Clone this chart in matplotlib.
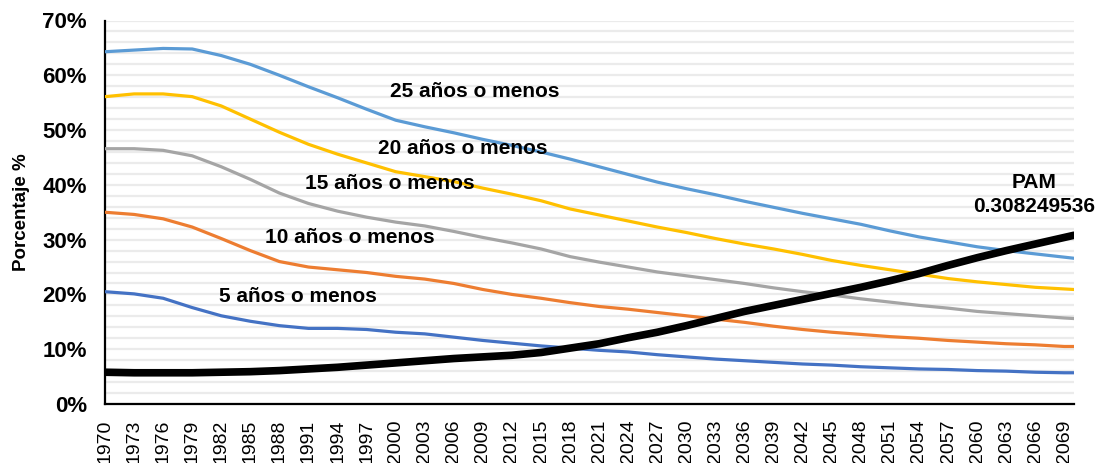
import matplotlib
matplotlib.use("Agg")
import matplotlib.pyplot as plt
from matplotlib.ticker import MultipleLocator, FuncFormatter

plt.rcParams['font.family'] = ['Liberation Sans', 'DejaVu Sans']

# Datos (porcentaje)
years = [1970, 1973, 1976, 1979, 1982, 1985, 1988, 1991, 1994, 1997,
         2000, 2003, 2006, 2009, 2012, 2015, 2018, 2021, 2024, 2027,
         2030, 2033, 2036, 2039, 2042, 2045, 2048, 2051, 2054, 2057,
         2060, 2063, 2066, 2069, 2070]

menos25 = [64.3, 64.6, 64.9, 64.8, 63.6, 62.0, 60.0, 57.9, 55.9, 53.8,
           51.8, 50.6, 49.5, 48.3, 47.2, 46.0, 44.7, 43.3, 41.9, 40.5,
           39.3, 38.2, 37.0, 35.9, 34.8, 33.8, 32.8, 31.6, 30.5, 29.6,
           28.7, 28.0, 27.4, 26.8, 26.6]
menos20 = [56.1, 56.6, 56.6, 56.1, 54.4, 52.0, 49.6, 47.4, 45.6, 44.0,
           42.4, 41.5, 40.6, 39.4, 38.3, 37.1, 35.6, 34.5, 33.4, 32.3,
           31.3, 30.2, 29.2, 28.3, 27.3, 26.2, 25.3, 24.5, 23.7, 22.9,
           22.3, 21.8, 21.3, 21.0, 20.9]
menos15 = [46.6, 46.6, 46.3, 45.3, 43.3, 41.0, 38.5, 36.6, 35.2, 34.1,
           33.2, 32.5, 31.5, 30.4, 29.4, 28.3, 26.9, 25.9, 25.0, 24.1,
           23.4, 22.7, 22.0, 21.2, 20.5, 19.9, 19.2, 18.6, 18.0, 17.5,
           16.9, 16.5, 16.1, 15.7, 15.6]
menos10 = [35.0, 34.6, 33.8, 32.3, 30.2, 28.0, 26.0, 25.0, 24.5, 24.0,
           23.3, 22.8, 22.0, 20.9, 20.0, 19.3, 18.5, 17.8, 17.3, 16.7,
           16.1, 15.5, 14.9, 14.2, 13.6, 13.1, 12.7, 12.3, 12.0, 11.6,
           11.3, 11.0, 10.8, 10.5, 10.5]
menos5 = [20.5, 20.1, 19.3, 17.6, 16.1, 15.1, 14.3, 13.8, 13.8, 13.6,
          13.1, 12.8, 12.2, 11.6, 11.1, 10.6, 10.2, 9.8, 9.5, 9.0,
          8.6, 8.2, 7.9, 7.6, 7.3, 7.1, 6.8, 6.6, 6.4, 6.3,
          6.1, 6.0, 5.8, 5.7, 5.7]
pam = [5.8, 5.7, 5.7, 5.7, 5.8, 5.9, 6.1, 6.4, 6.7, 7.1,
       7.5, 7.9, 8.3, 8.6, 8.9, 9.4, 10.2, 11.0, 12.1, 13.1,
       14.3, 15.6, 16.9, 18.0, 19.1, 20.2, 21.3, 22.5, 23.8, 25.3,
       26.7, 28.0, 29.2, 30.4, 30.8]

tick_years = list(range(1970, 2070, 3))

fig = plt.figure(figsize=(11.01, 4.63), dpi=100)
ax = fig.add_axes([105 / 1101, 1 - 404 / 463, (1074 - 105) / 1101, (404 - 20.5) / 463])

# Líneas
ax.plot(years, menos25, color='#5B9BD5', lw=2.3, solid_capstyle='round', zorder=3)
ax.plot(years, menos20, color='#FFC000', lw=2.3, solid_capstyle='round', zorder=3)
ax.plot(years, menos15, color='#A5A5A5', lw=2.3, solid_capstyle='round', zorder=3)
ax.plot(years, menos10, color='#ED7D31', lw=2.3, solid_capstyle='round', zorder=3)
ax.plot(years, menos5, color='#4472C4', lw=2.3, solid_capstyle='round', zorder=3)
ax.plot(years, pam, color='black', lw=5.5, solid_capstyle='round', zorder=4)

# Etiquetas de las series
lbl = dict(fontsize=15, fontweight='bold', ha='center', va='center', zorder=5)
ax.text(2008.2, 57.1, '25 años o menos', **lbl)
ax.text(2006.9, 46.7, '20 años o menos', **lbl)
ax.text(1999.4, 40.3, '15 años o menos', **lbl)
ax.text(1995.3, 30.3, '10 años o menos', **lbl)
ax.text(1989.9, 19.7, '5 años o menos', **lbl)
ax.text(2065.9, 40.5, 'PAM', **lbl)
ax.text(2065.9, 36.1, '0.308249536', **lbl)

# Ejes
ax.set_xlim(1970, 2070)
ax.set_ylim(0, 70)
ax.yaxis.set_major_locator(MultipleLocator(10))
ax.yaxis.set_minor_locator(MultipleLocator(2))
ax.yaxis.set_major_formatter(FuncFormatter(lambda v, p: f'{v:.0f}%'))
ax.set_xticks(tick_years)
ax.set_xticklabels([str(y) for y in tick_years], rotation=90, fontsize=14)
for t in ax.get_yticklabels():
    t.set_fontsize(16)
    t.set_fontweight('bold')
ax.tick_params(axis='both', which='both', length=0)
ax.tick_params(axis='y', pad=13)
ax.tick_params(axis='x', pad=11)

ax.grid(True, axis='y', which='both', color='#EBEBEB', lw=1.6, zorder=0)
ax.set_axisbelow(True)

for s in ['top', 'right']:
    ax.spines[s].set_visible(False)
ax.spines['left'].set_linewidth(1.6)
ax.spines['bottom'].set_linewidth(1.6)

ax.set_ylabel('Porcentaje %', fontsize=13.5, fontweight='bold', labelpad=9)

fig.savefig('out.png', dpi=100)
